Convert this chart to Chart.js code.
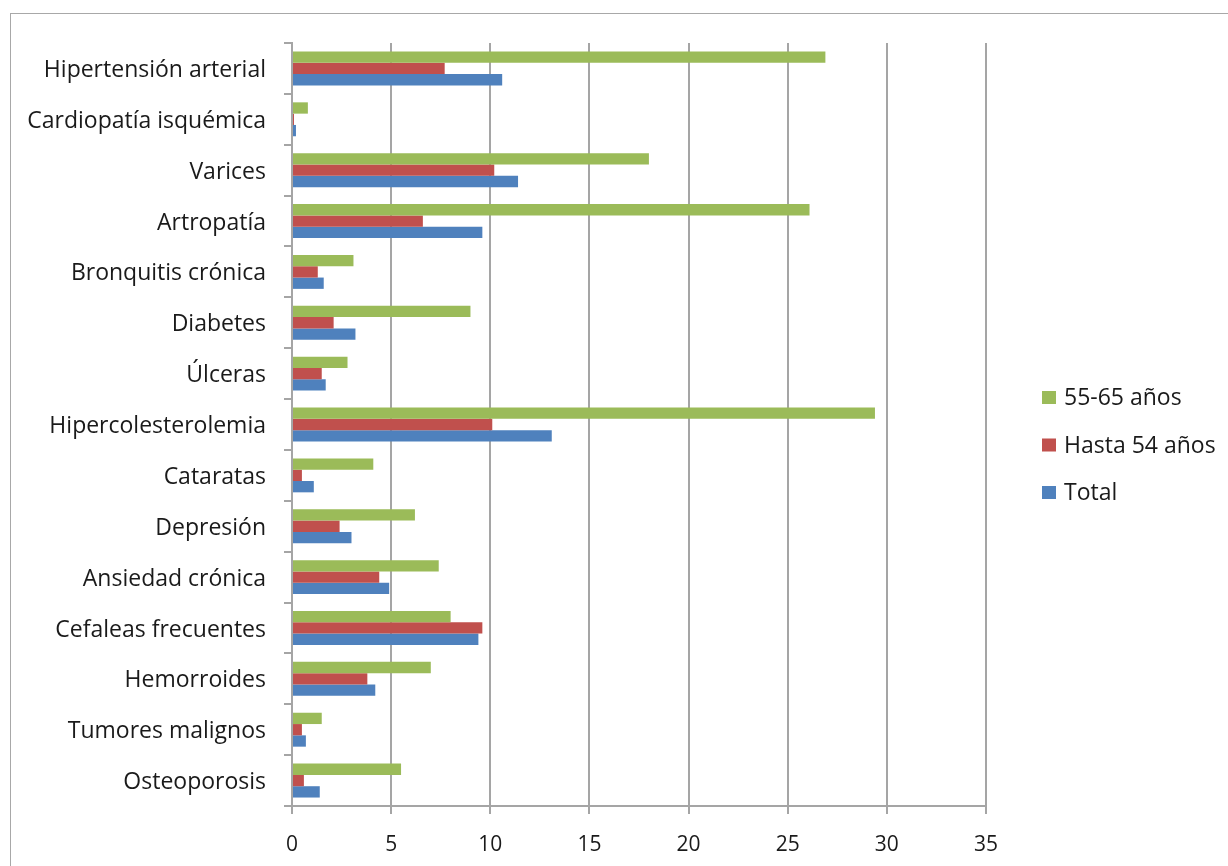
<!DOCTYPE html>
<html>
<head>
<meta charset="utf-8">
<script src="https://cdn.jsdelivr.net/npm/chart.js@4/dist/chart.umd.min.js"></script>
<style>
  html, body { margin: 0; padding: 0; background: #fff; overflow: hidden; }
  #frame { position: absolute; left: 10px; top: 13px; width: 3000px; height: 3000px; border: 1.5px solid #a8a8a8; }
  #wrap { position: absolute; left: 0; top: 0; width: 1228px; height: 866px; }
</style>
</head>
<body>
<div id="frame"></div>
<div id="wrap"><canvas id="c" width="1228" height="866"></canvas></div>
<script>
const categories = ['Hipertensión arterial','Cardiopatía isquémica','Varices','Artropatía','Bronquitis crónica','Diabetes','Úlceras','Hipercolesterolemia','Cataratas','Depresión','Ansiedad crónica','Cefaleas frecuentes','Hemorroides','Tumores malignos','Osteoporosis'];
const seriesNames = ['55-65 años', 'Hasta 54 años', 'Total'];
const age55to65 = [26.9, 0.8, 18.0, 26.1, 3.1, 9.0, 2.8, 29.4, 4.1, 6.2, 7.4, 8.0, 7.0, 1.5, 5.5];
const upTo54 = [7.7, 0.1, 10.2, 6.6, 1.3, 2.1, 1.5, 10.1, 0.5, 2.4, 4.4, 9.6, 3.8, 0.5, 0.6];
const total = [10.6, 0.2, 11.4, 9.6, 1.6, 3.2, 1.7, 13.1, 1.1, 3.0, 4.9, 9.4, 4.2, 0.7, 1.4];
const xMin = 0, xMax = 35, xStep = 5;
const colors = ['#9BBB59', '#C0504D', '#4F81BD'];

const FONT = '"Open Sans", sans-serif';
const LABEL_SIZE = 23;
const TICK_SIZE = 21;

const customLegend = {
  id: 'customLegend',
  afterDraw(chart) {
    const ctx = chart.ctx;
    const ds = chart.data.datasets;
    const spacing = 47.5;
    const cy = chart.height / 2 + 12;
    const x = chart.chartArea.right + 56;
    ctx.save();
    ctx.font = LABEL_SIZE + 'px ' + FONT;
    ctx.textBaseline = 'middle';
    ctx.textAlign = 'left';
    ds.forEach((d, i) => {
      const y = cy + (i - (ds.length - 1) / 2) * spacing;
      ctx.fillStyle = d.backgroundColor;
      ctx.fillRect(x, y - 6.5, 14, 13);
      ctx.fillStyle = '#1a1a1a';
      ctx.fillText(d.label, x + 22, y + 1);
    });
    ctx.restore();
  }
};

new Chart(document.getElementById('c'), {
  type: 'bar',
  data: {
    labels: categories,
    datasets: [
      { label: seriesNames[0], data: age55to65, backgroundColor: colors[0] },
      { label: seriesNames[1], data: upTo54, backgroundColor: colors[1] },
      { label: seriesNames[2], data: total, backgroundColor: colors[2] }
    ]
  },
  options: {
    indexAxis: 'y',
    responsive: false,
    animation: false,
    events: [],
    layout: { padding: { top: 43, right: 242, bottom: 0, left: 0 } },
    datasets: { bar: { categoryPercentage: 0.667, barPercentage: 1.0 } },
    plugins: { legend: { display: false }, tooltip: { enabled: false } },
    scales: {
      x: {
        min: xMin, max: xMax,
        afterFit(scale) { scale.height = 60; },
        ticks: { stepSize: xStep, color: '#1a1a1a', font: { family: FONT, size: TICK_SIZE }, padding: 18 },
        grid: { color: '#a5a5a5', lineWidth: 2, tickLength: 8, drawTicks: true },
        border: { color: '#a5a5a5', width: 2 }
      },
      y: {
        afterFit(scale) { scale.width = 292; },
        ticks: { color: '#1a1a1a', font: { family: FONT, size: LABEL_SIZE }, padding: 18, autoSkip: false, labelOffset: 2 },
        grid: { drawOnChartArea: false, drawTicks: true, tickLength: 8, offset: true, color: '#a5a5a5', lineWidth: 2 },
        border: { color: '#a5a5a5', width: 2 }
      }
    }
  },
  plugins: [customLegend]
});
</script>
</body>
</html>
